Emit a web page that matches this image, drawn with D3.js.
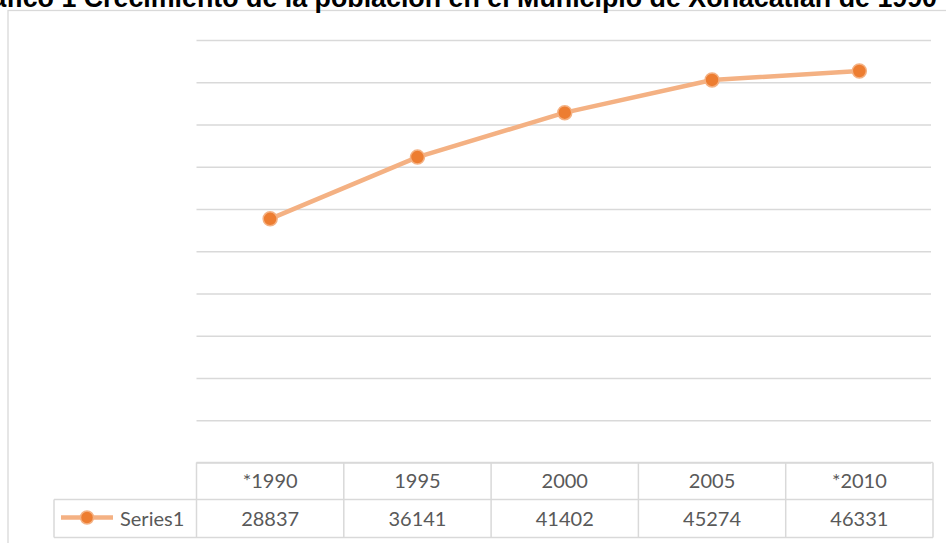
<!DOCTYPE html>
<html>
<head>
<meta charset="utf-8">
<script src="https://cdn.jsdelivr.net/npm/d3@7/dist/d3.min.js"></script>
<style>
  html, body { margin: 0; padding: 0; background: #fff; }
  svg { display: block; }
</style>
</head>
<body>
<svg id="chart" width="946" height="543"></svg>
<script>
// Población del municipio por año censal
const categories = ["*1990", "1995", "2000", "2005", "*2010"];
const seriesName = "Series1";
const population = [28837, 36141, 41402, 45274, 46331];
const yTicks = [0, 5000, 10000, 15000, 20000, 25000, 30000, 35000, 40000, 45000, 50000];
const titleText = "Gráfico 1 Crecimiento de la población en el Municipio de Xonacatlán de 1990";

const svg = d3.select("#chart");
const W = 946, H = 543;

const grid = "#d9d9d9";
const textCol = "#595959";
const lineCol = "#f4b183";
const markerCol = "#ed7d31";

const plot = { left: 196.5, right: 933, top: 40, bottom: 462.5 };
const table = { left: 54, row1: 462.5, row2: 499.5, bottom: 537.5 };

// Chart area frame
svg.append("rect")
  .attr("x", 8).attr("y", 10.5)
  .attr("width", W + 10).attr("height", H)
  .attr("fill", "#fff")
  .attr("stroke", grid).attr("stroke-width", 1.3);

// Title (bold, runs past the top edge)
svg.append("text")
  .attr("x", 937).attr("y", 6.5)
  .attr("text-anchor", "end")
  .attr("font-family", "Liberation Sans, Arial, sans-serif")
  .attr("font-weight", "bold")
  .attr("font-size", 26.8)
  .attr("fill", "#000")
  .text(titleText);

const x = d3.scaleBand().domain(categories).range([plot.left, plot.right]);
const y = d3.scaleLinear().domain([0, 50000]).range([plot.bottom, plot.top]);

// Horizontal gridlines
const gAxis = svg.append("g")
  .attr("transform", `translate(${plot.left},0)`)
  .call(d3.axisLeft(y).tickValues(yTicks).tickSize(-(plot.right - plot.left - 2)).tickFormat(""));
gAxis.select(".domain").remove();
gAxis.selectAll(".tick line").attr("stroke", grid).attr("stroke-width", 1.3);

// Data table under the plot
const tg = svg.append("g").attr("stroke", grid).attr("stroke-width", 1.5).attr("fill", "none");
tg.append("line").attr("x1", plot.left).attr("x2", plot.right).attr("y1", table.row1).attr("y2", table.row1);
tg.append("line").attr("x1", table.left).attr("x2", plot.right).attr("y1", table.row2).attr("y2", table.row2);
tg.append("line").attr("x1", table.left).attr("x2", plot.right).attr("y1", table.bottom).attr("y2", table.bottom);
tg.append("line").attr("x1", table.left).attr("x2", table.left).attr("y1", table.row2).attr("y2", table.bottom);
const colEdges = categories.map(c => x(c)).concat([plot.right]);
tg.selectAll("line.col").data(colEdges).join("line")
  .attr("class", "col")
  .attr("x1", d => d).attr("x2", d => d)
  .attr("y1", table.row1).attr("y2", table.bottom);

const font = "Lato, 'Open Sans', sans-serif";
svg.append("g").selectAll("text").data(categories).join("text")
  .attr("x", d => x(d) + x.bandwidth() / 2)
  .attr("y", (table.row1 + table.row2) / 2)
  .attr("dy", "0.36em")
  .attr("text-anchor", "middle")
  .attr("font-family", font).attr("font-size", 20)
  .attr("fill", textCol)
  .text(d => d);

svg.append("g").selectAll("text").data(population).join("text")
  .attr("x", (d, i) => x(categories[i]) + x.bandwidth() / 2)
  .attr("y", (table.row2 + table.bottom) / 2)
  .attr("dy", "0.36em")
  .attr("text-anchor", "middle")
  .attr("font-family", font).attr("font-size", 20)
  .attr("fill", textCol)
  .text(d => d);

// Legend key in the table's first cell
const ly = (table.row2 + table.bottom) / 2 - 1;
svg.append("line").attr("x1", 61).attr("x2", 113).attr("y1", ly).attr("y2", ly)
  .attr("stroke", lineCol).attr("stroke-width", 4.5);
svg.append("circle").attr("cx", 87).attr("cy", ly).attr("r", 6.5)
  .attr("fill", markerCol).attr("stroke", lineCol).attr("stroke-width", 1.5);
svg.append("text")
  .attr("x", 120).attr("y", ly + 1).attr("dy", "0.36em")
  .attr("font-family", font).attr("font-size", 20)
  .attr("fill", textCol)
  .text(seriesName);

// Series line and markers
const pts = population.map((v, i) => [x(categories[i]) + x.bandwidth() / 2, y(v)]);
svg.append("path")
  .attr("d", d3.line()(pts))
  .attr("fill", "none")
  .attr("stroke", lineCol)
  .attr("stroke-width", 4.5)
  .attr("stroke-linejoin", "round")
  .attr("stroke-linecap", "round");
svg.append("g").selectAll("circle").data(pts).join("circle")
  .attr("cx", d => d[0]).attr("cy", d => d[1])
  .attr("r", 7)
  .attr("fill", markerCol)
  .attr("stroke", lineCol).attr("stroke-width", 1.5);
</script>
</body>
</html>
